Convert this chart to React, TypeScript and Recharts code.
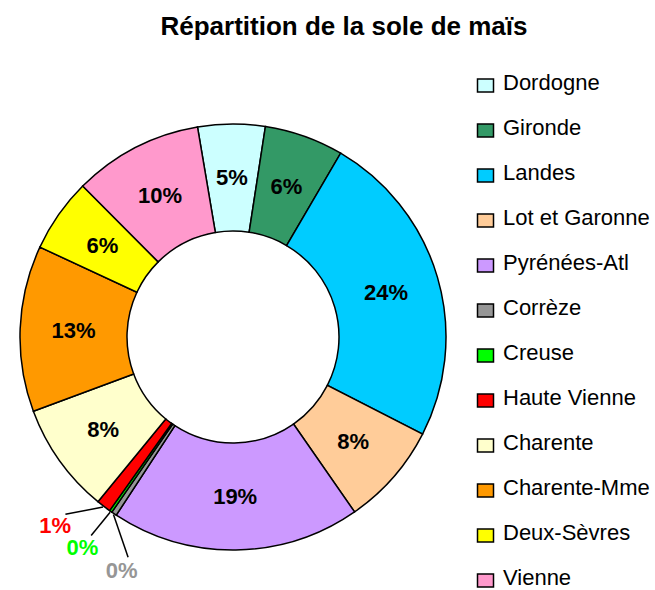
import React from 'react';
import { PieChart, Pie, Cell, Legend } from 'recharts';

const departements = [
  'Dordogne',
  'Gironde',
  'Landes',
  'Lot et Garonne',
  'Pyrénées-Atl',
  'Corrèze',
  'Creuse',
  'Haute Vienne',
  'Charente',
  'Charente-Mme',
  'Deux-Sèvres',
  'Vienne',
];

const sole = [5.1, 6.0, 24.1, 7.8, 18.9, 0.4, 0.2, 1.1, 8.4, 12.6, 5.6, 9.8];

const couleurs = [
  '#CCFFFF',
  '#339966',
  '#00CCFF',
  '#FFCC99',
  '#CC99FF',
  '#969696',
  '#00FF00',
  '#FF0000',
  '#FFFFCC',
  '#FF9900',
  '#FFFF00',
  '#FF99CC',
];

const titre = 'Répartition de la sole de maïs';

const data = departements.map((name, i) => ({ name, value: sole[i] }));

const FONT = "'Liberation Sans', Arial, sans-serif";
const RAD = Math.PI / 180;
// angular offsets (degrees) for the outside labels of the tiny slices
const outsideShift: Record<number, number> = { 5: 8.5, 6: -0.5, 7: -6 };

const renderLabel = (p: any) => {
  const { cx, cy, midAngle, innerRadius, outerRadius, percent, index } = p;
  const txt = `${Math.round(percent * 100)}%`;
  if (percent >= 0.02) {
    const r = (innerRadius + outerRadius) / 2;
    const x = cx + r * Math.cos(-midAngle * RAD);
    const y = cy + r * Math.sin(-midAngle * RAD);
    return (
      <text
        x={x}
        y={y}
        textAnchor="middle"
        dominantBaseline="central"
        fontFamily={FONT}
        fontWeight="bold"
        fontSize={22}
        fill="#000"
      >
        {txt}
      </text>
    );
  }
  const a = midAngle + (outsideShift[index] ?? 0);
  const x0 = cx + (outerRadius + 1) * Math.cos(-midAngle * RAD);
  const y0 = cy + (outerRadius + 1) * Math.sin(-midAngle * RAD);
  const x1 = cx + (outerRadius + 31) * Math.cos(-a * RAD);
  const y1 = cy + (outerRadius + 31) * Math.sin(-a * RAD);
  const xt = cx + (outerRadius + 46) * Math.cos(-a * RAD);
  const yt = cy + (outerRadius + 46) * Math.sin(-a * RAD);
  return (
    <g>
      <line x1={x0} y1={y0} x2={x1} y2={y1} stroke="#000" strokeWidth={1.5} />
      <text
        x={xt}
        y={yt}
        textAnchor="middle"
        dominantBaseline="central"
        fontFamily={FONT}
        fontWeight="bold"
        fontSize={22}
        fill={couleurs[index]}
      >
        {txt}
      </text>
    </g>
  );
};

const renderLegend = () => (
  <svg width={185} height={528}>
    {departements.map((name, i) => (
      <g key={name}>
        <rect
          x={7.5}
          y={19 + i * 45}
          width={16}
          height={13}
          fill={couleurs[i]}
          stroke="#000"
          strokeWidth={1.5}
        />
        <text x={33} y={29.5 + i * 45} fontFamily={FONT} fontSize={22} fill="#000">
          {name}
        </text>
      </g>
    ))}
  </svg>
);

export default function App() {
  return (
    <div
      style={{
        position: 'absolute',
        left: 0,
        top: 0,
        width: 655,
        height: 590,
        background: '#fff',
      }}
    >
      <svg
        width={655}
        height={50}
        style={{ position: 'absolute', left: 0, top: 0 }}
      >
        <text
          x={344}
          y={35}
          textAnchor="middle"
          fontFamily={FONT}
          fontWeight="bold"
          fontSize={26}
          fill="#000"
        >
          {titre}
        </text>
      </svg>
      <PieChart
        width={655}
        height={590}
        margin={{ top: 0, right: 0, bottom: 0, left: 0 }}
      >
        <Pie
          data={data}
          dataKey="value"
          nameKey="name"
          cx={233}
          cy={337}
          innerRadius={106}
          outerRadius={213}
          startAngle={99.6}
          endAngle={-260.4}
          label={renderLabel}
          labelLine={false}
          isAnimationActive={false}
        >
          {data.map((d, i) => (
            <Cell key={d.name} fill={couleurs[i]} stroke="#000" strokeWidth={1.5} />
          ))}
        </Pie>
        <Legend
          layout="vertical"
          align="right"
          verticalAlign="top"
          content={renderLegend}
          wrapperStyle={{ position: 'absolute', left: 470, top: 60, width: 185, height: 528 }}
        />
      </PieChart>
    </div>
  );
}
